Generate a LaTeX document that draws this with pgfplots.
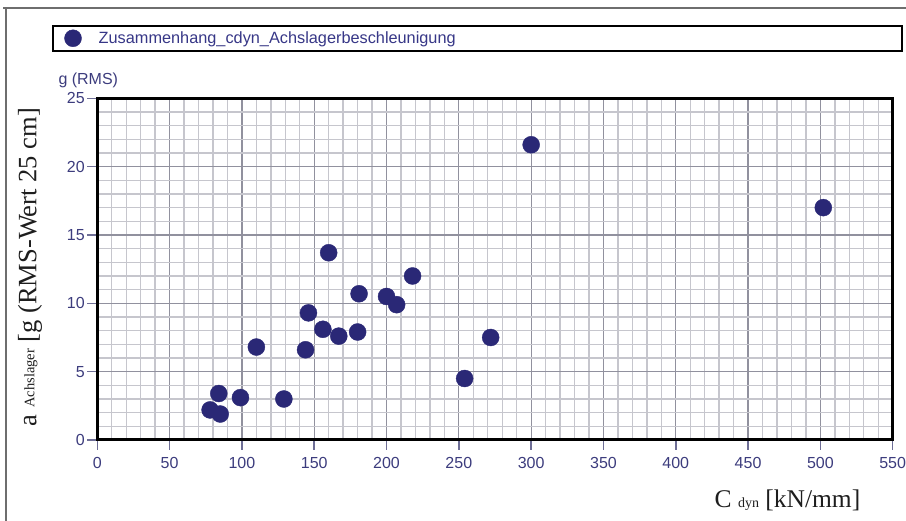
\documentclass[border=0pt]{standalone}
\usepackage{pgfplots}
\pgfplotsset{compat=1.18}
\usepackage{fontspec}
\setmainfont{Liberation Serif}
\newfontfamily\arial{Liberation Sans}
\definecolor{marknavy}{RGB}{42,40,118}
\definecolor{ticknavy}{RGB}{60,60,125}
\definecolor{tickmark}{RGB}{110,110,150}
\definecolor{legendnavy}{RGB}{55,55,135}
\definecolor{gridmajor}{RGB}{145,145,158}
\definecolor{gridminor}{RGB}{198,198,205}
\definecolor{framegray}{RGB}{110,110,110}
\definecolor{labelblack}{RGB}{30,30,30}
\begin{document}
\begin{tikzpicture}
\useasboundingbox (0pt,0pt) rectangle (906pt,521pt);
\draw[color=framegray, line width=1.5pt] (3pt,513pt) -- (906pt,513pt);
\draw[color=framegray, line width=1.5pt] (6pt,513pt) -- (6pt,0pt);
\begin{axis}[
  at={(97.3pt,81pt)}, anchor=south west,
  width=795.4pt, height=341.7pt, scale only axis,
  xmin=0, xmax=550, ymin=0, ymax=25,
  xtick={0,50,...,550}, ytick={0,5,...,25},
  minor x tick num=4, minor y tick num=4,
  grid=both,
  major grid style={color=gridmajor, line width=1.3pt},
  minor grid style={color=gridminor, line width=1.4pt},
  axis line style={black, line width=3pt},
  tick align=outside, tick pos=left,
  major tick length=10pt, minor tick length=0pt,
  tick style={color=tickmark, line width=1.5pt},
  /pgf/number format/assume math mode=true,
  tick label style={font=\arial\fontsize{16}{19}\selectfont, text=ticknavy},
  xticklabel style={yshift=-4pt},
  yticklabel style={xshift=1pt},
  xlabel={C {\fontsize{14}{16}\selectfont dyn} [kN/mm]},
  xlabel style={font=\fontsize{25.5}{30}\selectfont, text=labelblack, at={(axis description cs:0.8677,-0.1756)}, anchor=center},
  ylabel={a \raisebox{2pt}{\fontsize{14.5}{16}\selectfont Achslager} [g (RMS-Wert 25 cm]},
  ylabel style={font=\fontsize{26.5}{30}\selectfont, text=labelblack, at={(axis description cs:-0.0846,0.506)}, anchor=center},
  legend style={at={(-0.0573,1.2145)}, anchor=north west, draw=black, line width=2pt,
    inner xsep=11.8pt, inner ysep=3.6pt,
    font=\arial\fontsize{16.3}{19}\selectfont, text=legendnavy,
    cells={anchor=west},
    /tikz/every odd column/.append style={column sep=15.2pt}},
]
\addplot[only marks, mark=*, mark size=8.5pt, color=marknavy, mark options={line width=0.4pt, fill=marknavy}] coordinates {
(78,2.2) (85,1.9) (84,3.4) (99,3.1) (110,6.8) (129,3.0) (144,6.6) (146,9.3)
(156,8.1) (160,13.7) (167,7.6) (180,7.9) (181,10.7) (200,10.5) (207,9.9)
(218,12.0) (254,4.5) (272,7.5) (300,21.6) (502,17.0)
};
\addlegendentry{\makebox[789pt][l]{Zusammenhang\_cdyn\_Achslagerbeschleunigung}}
\end{axis}
\node[anchor=west, font=\arial\fontsize{16}{19}\selectfont, text=ticknavy, inner sep=0pt] at (58.3pt,441pt) {g (RMS)};
\end{tikzpicture}
\end{document}
